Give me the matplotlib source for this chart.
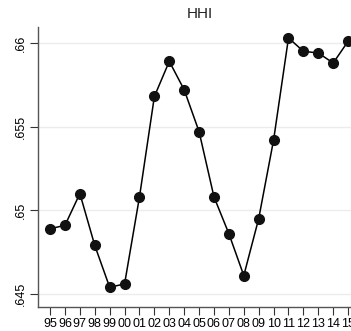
import matplotlib

matplotlib.use("Agg")
import matplotlib.pyplot as plt  # noqa: E402

years = ["95", "96", "97", "98", "99", "00", "01", "02", "03", "04", "05",
         "06", "07", "08", "09", "10", "11", "12", "13", "14", "15"]
hhi = [0.6489, 0.6491, 0.6510, 0.6479, 0.6454, 0.6456, 0.6508, 0.6568,
       0.6589, 0.6572, 0.6547, 0.6508, 0.6486, 0.6461, 0.6495, 0.6542,
       0.6603, 0.6595, 0.6594, 0.6588, 0.6601]
yticks = [0.645, 0.65, 0.655, 0.66]
ytick_labels = [".645", ".65", ".655", ".66"]

W, H = 351, 331
plt.rcParams["font.family"] = ["Liberation Sans", "DejaVu Sans"]
fig = plt.figure(figsize=(W / 100, H / 100), dpi=100)
left, right, top, bottom = 37.7, 363, 26.7, 306.7
ax = fig.add_axes([left / W, 1 - bottom / H, (right - left) / W, (bottom - top) / H])

x = list(range(len(years)))
ax.plot(x, hhi, "-o", color="black", lw=1.1, ms=7, mfc="#111111", mec="#111111")

ax.set_xlim(-0.83, 21.0)
ax.set_ylim(0.64424, 0.66097)
ax.set_xticks(x)
ax.set_xticklabels(years, fontsize=9)
ax.set_yticks(yticks)
ax.set_yticklabels(ytick_labels, fontsize=9, rotation=90, va="center")
ax.grid(axis="y", color="#ececec", lw=1)
ax.set_axisbelow(True)
for s in ("top", "right"):
    ax.spines[s].set_visible(False)
for s in ("left", "bottom"):
    ax.spines[s].set_color("#555555")
    ax.spines[s].set_linewidth(1)
ax.tick_params(axis="both", length=6, width=0.8, color="#333333")
ax.tick_params(axis="x", pad=2)
ax.tick_params(axis="y", pad=1.5)
ax.set_title("HHI", fontsize=11, pad=6, color="#222222")

fig.savefig("out.png", dpi=100)
